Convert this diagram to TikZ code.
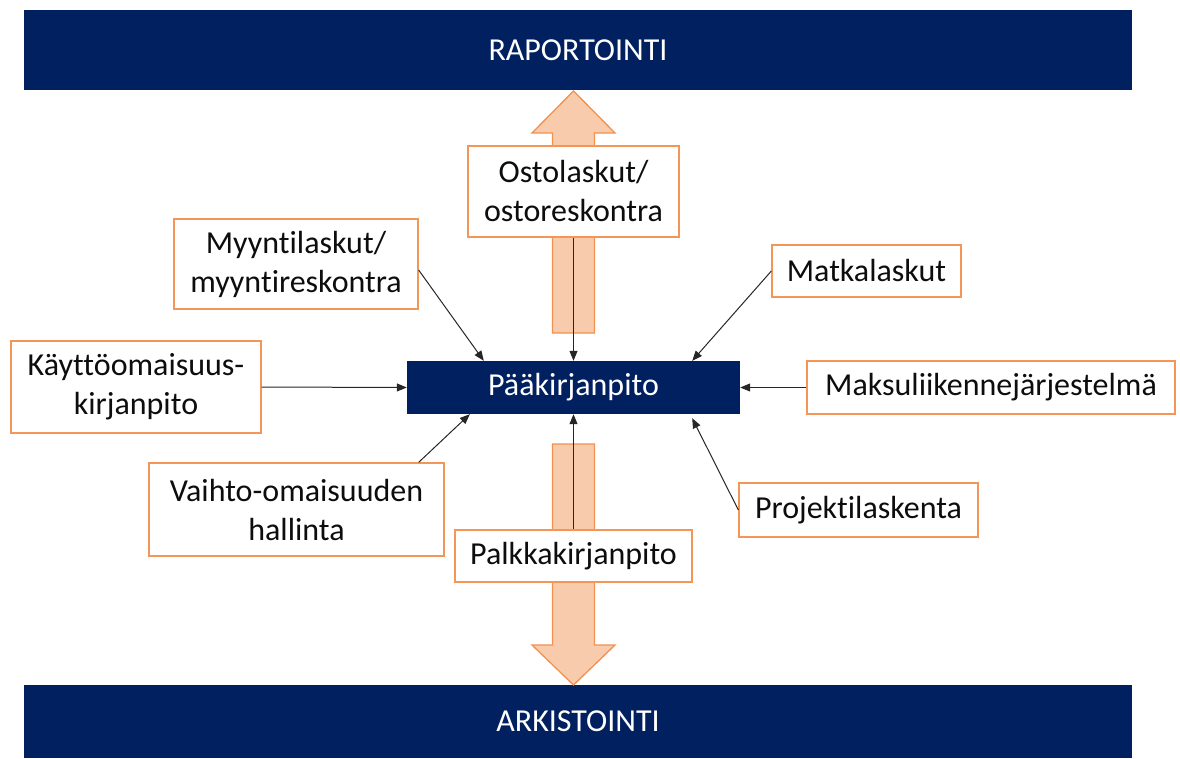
\documentclass[tikz,border=0pt]{standalone}
\usepackage{fontspec}
\setmainfont{Carlito}[Ligatures={NoCommon,NoRare,NoContextual}]
\usetikzlibrary{arrows.meta,calc}

\definecolor{navy}{RGB}{0,32,96}
\definecolor{boxline}{RGB}{243,150,88}
\definecolor{arrowfill}{RGB}{248,203,173}
\definecolor{arrowline}{RGB}{241,145,80}
\definecolor{txt}{RGB}{13,13,13}

\tikzset{
  darkbar/.style={fill=navy, draw=none, inner sep=0pt, text=white,
    font=\fontsize{32}{39}\selectfont},
  obox/.style={draw=boxline, line width=1.3pt, fill=white, inner sep=0pt,
    align=center, text=txt, font=\fontsize{32}{39}\selectfont},
  blockarrow/.style={fill=arrowfill, draw=arrowline, line width=1.3pt, line join=miter},
  feed/.style={draw=black!85, line width=1pt, -{Triangle[length=10pt,width=8pt]}}
}

\begin{document}
\begin{tikzpicture}[x=1pt, y=-1pt]
  \useasboundingbox (0,0) rectangle (1180,758);

  % top and bottom bars
  \node[darkbar, minimum width=1108pt, minimum height=80pt] (rap) at (578,50) {RAPORTOINTI};
  \node[darkbar, minimum width=1108pt, minimum height=73pt] (ark) at (578,721.5) {ARKISTOINTI};

  % wide block arrows up and down
  \draw[blockarrow] (552.5,333) -- (552.5,133) -- (532,133) -- (573.5,91)
     -- (615,133) -- (594.5,133) -- (594.5,333) -- cycle;
  \draw[blockarrow] (552.5,444) -- (594.5,444) -- (594.5,645) -- (615,645)
     -- (573.5,685) -- (532,645) -- (552.5,645) -- cycle;

  % central ledger
  \node[darkbar, minimum width=333pt, minimum height=53pt] (paa) at (573.5,387.5) {Pääkirjanpito};

  % feeding subsystems
  \node[obox, minimum width=211pt, minimum height=91pt] (osto) at (573.5,191.5) {Ostolaskut/\\ostoreskontra};
  \node[obox, minimum width=244pt, minimum height=90pt] (myynti) at (296,264) {Myyntilaskut/\\myyntireskontra};
  \node[obox, minimum width=250pt, minimum height=92pt] (kaytto) at (136,387) {Käyttöomaisuus-\\kirjanpito};
  \node[obox, minimum width=295pt, minimum height=93pt] (vaihto) at (296.5,509.5) {Vaihto-omaisuuden\\hallinta};
  \node[obox, minimum width=237pt, minimum height=52pt] (palkka) at (573.5,556) {Palkkakirjanpito};
  \node[obox, minimum width=189pt, minimum height=52pt] (matka) at (866.5,271) {Matkalaskut};
  \node[obox, minimum width=368pt, minimum height=53pt] (maksu) at (991,387.5) {Maksuliikennejärjestelmä};
  \node[obox, minimum width=239pt, minimum height=54pt] (projekti) at (858.5,510) {Projektilaskenta};

  % connectors into the general ledger
  \draw[feed] (osto.south) -- (paa.north);
  \draw[feed] (palkka.north) -- (paa.south);
  \draw[feed] ($(myynti.east)+(0,6)$) -- ($(paa.north west)+(77,0)$);
  \draw[feed] (kaytto.east) -- (paa.west);
  \draw[feed] ($(vaihto.north east)+(-26,0)$) -- ($(paa.south west)+(63,0)$);
  \draw[feed] (matka.west) -- ($(paa.north east)+(-48,0)$);
  \draw[feed] (maksu.west) -- (paa.east);
  \draw[feed] (projekti.west) -- ($(paa.south east)+(-48,4)$);
\end{tikzpicture}
\end{document}
